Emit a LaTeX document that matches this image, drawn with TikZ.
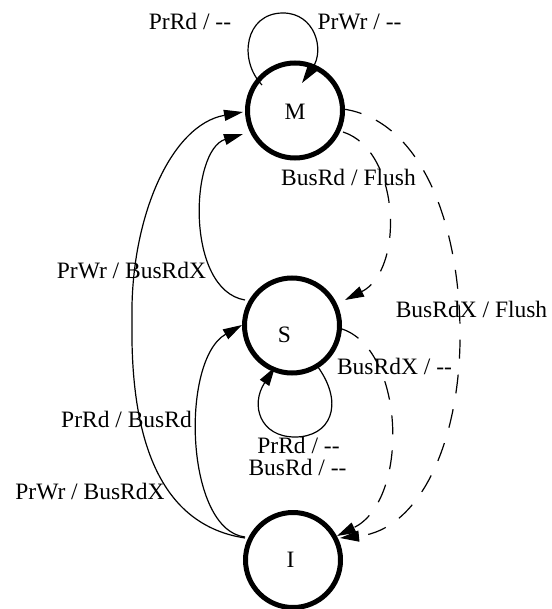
\documentclass[tikz,border=0pt]{standalone}
\usepackage{fontspec}
\setmainfont{Liberation Serif}
\usetikzlibrary{arrows.meta,calc}
\begin{document}
\begin{tikzpicture}[x=1pt,y=-1pt,
  state/.style={circle,draw,line width=5pt,minimum size=95pt,inner sep=0pt},
  trans/.style={line width=1.2pt,-{Triangle[length=19pt,width=11pt]}},
  dtrans/.style={trans,dash pattern=on 19pt off 16pt},
  lbl/.style={font=\fontsize{23.5}{28}\selectfont,inner sep=0pt}]
\useasboundingbox (0,0) rectangle (551,609);
% states
\node[state,label={[lbl,yshift=-1.5pt]center:M}] (M) at (295,110.5) {};
\node[state,label={[lbl,xshift=-7.5pt,yshift=-9.5pt]center:S}] (S) at (292,325.5) {};
\node[state,label={[lbl,xshift=-2.5pt]center:I}] (I) at (293,560) {};
% solid transitions
\draw[trans] ($(M)+(-33,-25.5)$) .. controls (238,60) and (245,13) .. (283,13)
  .. controls (315,13) and (325,50) .. ($(M)+(7,-27.5)$);
\draw[trans] ($(I)+(-48,-22)$) .. controls (160,525) and (130,440) .. (132,320)
  .. controls (130,220) and (170,125) .. ($(M)+(-52,1.5)$);
\draw[trans] ($(S)+(-47,-25.5)$) .. controls (185,290) and (190,150) .. ($(M)+(-52,23.5)$);
\draw[trans] ($(I)+(-48,-23)$) .. controls (185,530) and (180,360) .. ($(S)+(-50,-0.5)$);
\draw[trans] ($(S)+(26,41.5)$) .. controls (345,405) and (330,437) .. (295,437)
  .. controls (260,437) and (250,405) .. ($(S)+(-17,41.5)$);
% dashed transitions
\draw[dtrans] ($(M)+(48,21.5)$) .. controls (400,150) and (405,270) .. ($(S)+(53,-25.5)$);
\draw[dtrans] ($(M)+(48,-1.5)$) .. controls (420,120) and (458,220) .. (460,327)
  .. controls (462,440) and (420,530) .. ($(I)+(47,-22)$);
\draw[dtrans] ($(S)+(50,3.5)$) .. controls (405,350) and (410,500) .. ($(I)+(44,-24)$);
% labels
\node[lbl] (l1) at (190,21) {PrRd / -{}-};
\node[lbl] (l2) at (359.5,22) {PrWr / -{}-};
\node[lbl] (l3) at (348.5,177) {BusRd / Flush};
\node[lbl] (l4) at (131.5,271) {PrWr / BusRdX};
\node[lbl] (l5) at (471.5,309) {BusRdX / Flush};
\node[lbl] (l6) at (394.5,366) {BusRdX / -{}-};
\node[lbl] (l7) at (126.5,419) {PrRd / BusRd};
\node[lbl] (l8) at (90,492) {PrWr / BusRdX};
\node[lbl] (l9) at (298.5,445.5) {PrRd / -{}-};
\node[lbl] (l10) at (297.5,467) {BusRd / -{}-};
\end{tikzpicture}
\end{document}
